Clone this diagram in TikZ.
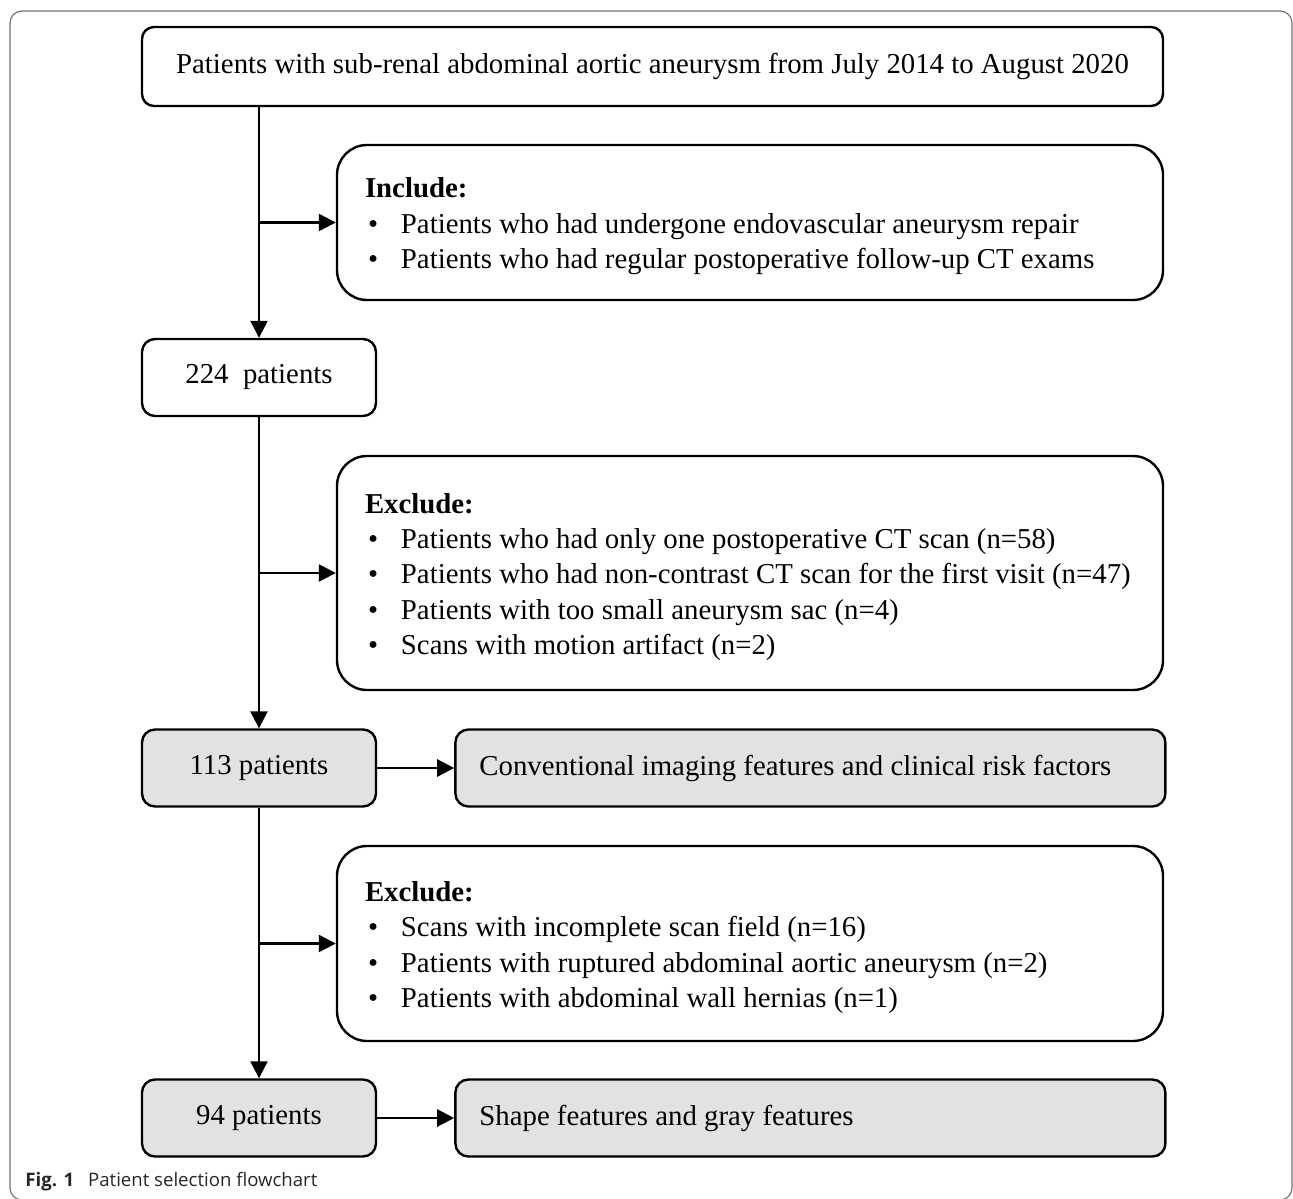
\documentclass[tikz,border=0pt]{standalone}
\usepackage{fontspec}
\setmainfont{Liberation Serif}
\newfontfamily\capsans{Open Sans}
\usetikzlibrary{positioning,arrows.meta}
\definecolor{boxgray}{RGB}{226,226,226}
\newcommand{\bitem}[1]{\\\hspace*{1.5pt}\makebox[16.5pt][l]{\textbullet}#1}
\newcommand{\listhead}[1]{\rule{0pt}{14pt}\textbf{#1}}

\begin{document}
\begin{tikzpicture}[x=0.5pt, y=-0.5pt,
        every node/.style={font=\fontsize{14.4}{17.7}\selectfont},
        topbox/.style={rectangle, draw, line width=1.2pt, rounded corners=6pt, minimum width=510.5pt, minimum height=39.5pt},
        countbox/.style={rectangle, draw, line width=1.2pt, rounded corners=6.5pt, minimum width=117pt, minimum height=38.5pt},
        featbox/.style={rectangle, draw, line width=1.2pt, rounded corners=6.5pt, fill=boxgray, minimum width=355pt, minimum height=38.5pt, text width=331pt, inner xsep=12pt, align=flush left},
        listbox/.style={rectangle, draw, line width=1.2pt, rounded corners=15pt, minimum width=413pt, text width=385pt, inner xsep=14pt, align=flush left},
        flow/.style={line width=1.2pt, -{Triangle[length=8.5pt,width=8.5pt]}}]

        \useasboundingbox (0,0) rectangle (1293,1198);
        \draw[black!55, line width=0.6pt, rounded corners=6pt] (10,11) rectangle (1292,1200);

        \node[topbox] (src) at (652.5,66.5) {Patients with sub-renal abdominal aortic aneurysm from July 2014 to August 2020};

        \node[countbox] (n224) at (259,377.5) {224~~patients};
        \node[countbox, fill=boxgray] (n113) at (259,768) {113 patients};
        \node[countbox, fill=boxgray] (n94) at (259,1118) {94 patients};

        \node[featbox] (conv) [right=38.5pt of n113] {Conventional imaging features and clinical risk factors};
        \node[featbox] (shape) [right=38.5pt of n94] {Shape features and gray features};

        \node[listbox, minimum height=77.5pt] (incl) at (750,222.5) {\listhead{Include:}
            \bitem{Patients who had undergone endovascular aneurysm repair}
            \bitem{Patients who had regular postoperative follow-up CT exams}};
        \node[listbox, minimum height=117pt] (excl1) at (750,573) {\listhead{Exclude:}
            \bitem{Patients who had only one postoperative CT scan (n=58)}
            \bitem{Patients who had non-contrast CT scan for the first visit (n=47)}
            \bitem{Patients with too small aneurysm sac (n=4)}
            \bitem{Scans with motion artifact (n=2)}};
        \node[listbox, minimum height=97.5pt] (excl2) at (750,943.5) {\listhead{Exclude:}
            \bitem{Scans with incomplete scan field (n=16)}
            \bitem{Patients with ruptured abdominal aortic aneurysm (n=2)}
            \bitem{Patients with abdominal wall hernias (n=1)}};

        % main column
        \draw[flow] (src.south -| n224) -- (n224.north);
        \draw[flow] (n224.south) -- (n113.north);
        \draw[flow] (n113.south) -- (n94.north);

        % side branches
        \draw[flow] (incl.west -| n224) -- (incl.west);
        \draw[flow] (excl1.west -| n224) -- (excl1.west);
        \draw[flow] (excl2.west -| n113) -- (excl2.west);
        \draw[flow] (n113.east) -- (conv.west);
        \draw[flow] (n94.east) -- (shape.west);

        \node[anchor=west, inner sep=0pt, font=\capsans\fontsize{9.3}{11}\selectfont, text=black!85] (cap) at (25,1182) {\textbf{Fig. 1}\hspace{7pt}Patient selection flowchart};

\end{tikzpicture}
\end{document}
